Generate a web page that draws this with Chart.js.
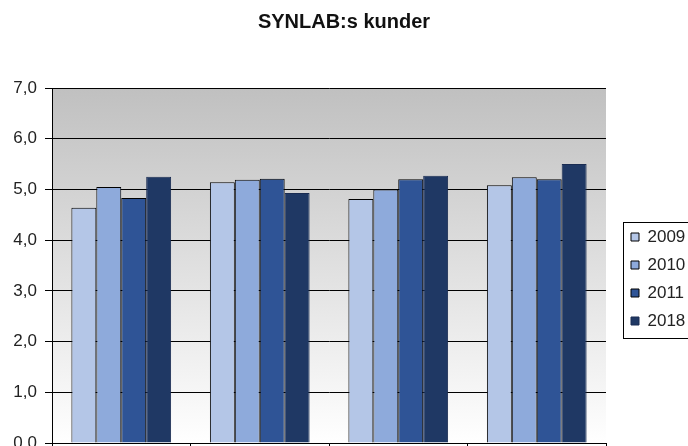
<!DOCTYPE html>
<html lang="sv">
  <head>
    <meta charset="UTF-8" />
    <script src="https://cdn.jsdelivr.net/npm/chart.js@4.4.0/dist/chart.umd.min.js"></script>
    <title>SYNLAB:s kunder</title>
    <style>
      body { margin: 0; background: #fff; }
    </style>
  </head>
  <body>
    <canvas id="chart" width="688" height="446"></canvas>
    <script>
      // categories are cut off at the bottom of the picture
      const categories = ["Fråga 1", "Fråga 2", "Fråga 3", "Fråga 4"];
      const years = ["2009", "2010", "2011", "2018"];
      const values2009 = [4.64, 5.14, 4.81, 5.08];
      const values2010 = [5.05, 5.19, 5.0, 5.24];
      const values2011 = [4.83, 5.21, 5.2, 5.2];
      const values2018 = [5.25, 4.93, 5.27, 5.5];
      const yTicks = [0, 1, 2, 3, 4, 5, 6, 7];

      const fills = ["#b4c6e7", "#8eaadb", "#2f5496", "#1f3864"];
      const borders = ["#000", "#000", "#000", "#1a2c52"];
      const font = "Liberation Sans, Arial, sans-serif";

      const plotBg = {
        id: "plotBg",
        afterInit(chart) {
          // fixed legend column width so the plot ends where the reference does
          const l = chart.legend;
          const fit = l.fit;
          l.fit = function () {
            fit.call(this);
            this.width = 82;
          };
        },
        afterUpdate(chart) {
          // move the legend items down/right to where the reference has them
          const l = chart.legend;
          const hb = l.legendHitBoxes;
          if (!hb.length) return;
          const dy = 237 - (hb[0].top + hb[0].height / 2);
          const dx = 14;
          l.top += dy;
          l.bottom += dy;
          l.left += dx;
          l.right += dx;
          hb.forEach((h) => {
            h.top += dy;
            h.left += dx;
          });
        },
        beforeDraw(chart) {
          const { ctx, chartArea: a } = chart;
          const g = ctx.createLinearGradient(0, a.top, 0, a.bottom);
          g.addColorStop(0, "#c0c0c0");
          g.addColorStop(1, "#ffffff");
          ctx.save();
          ctx.fillStyle = g;
          ctx.fillRect(a.left, a.top, a.right - a.left, a.bottom - a.top);
          ctx.restore();
        },
        afterDraw(chart) {
          const hb = chart.legend.legendHitBoxes;
          if (!hb.length) return;
          const first = hb[0];
          const last = hb[hb.length - 1];
          const top = Math.round(first.top + first.height / 2 - 15) + 0.5;
          const bottom = Math.round(last.top + last.height / 2 + 17) + 0.5;
          const left = Math.round(first.left - 8) + 0.5;
          const ctx = chart.ctx;
          ctx.save();
          ctx.strokeStyle = "#000";
          ctx.lineWidth = 1;
          ctx.strokeRect(left, top, chart.width + 10 - left, bottom - top);
          ctx.restore();
        },
      };

      const ctx = document.getElementById("chart").getContext("2d");
      const chart = new Chart(ctx, {
        type: "bar",
        data: {
          labels: categories,
          datasets: [values2009, values2010, values2011, values2018].map((v, i) => ({
            label: years[i],
            data: v,
            backgroundColor: fills[i],
            borderColor: borders[i],
            borderWidth: 1,
            categoryPercentage: 0.72,
            barPercentage: 1,
          })),
        },
        options: {
          responsive: false,
          animation: false,
          layout: { padding: 0 },
          plugins: {
            title: {
              display: true,
              text: "SYNLAB:s kunder",
              color: "#111",
              font: { family: font, size: 20, weight: "bold" },
              padding: { top: 10, bottom: 54 },
            },
            legend: {
              position: "right",
              labels: {
                boxWidth: 8,
                boxHeight: 8,
                padding: 11,
                color: "#222",
                font: { family: font, size: 17 },
              },
            },
            tooltip: { enabled: false },
          },
          scales: {
            x: {
              ticks: { display: false },
              grid: { drawOnChartArea: false, color: "#000", tickLength: 7, offset: true },
              border: { color: "#000" },
              afterFit(axis) {
                // the picture is cut just below the axis line
                axis.height = 3;
              },
            },
            y: {
              min: 0,
              max: 7,
              afterBuildTicks(axis) {
                axis.ticks = yTicks.map((v) => ({ value: v }));
              },
              afterFit(axis) {
                axis.width = 52;
                axis.paddingBottom = 0;
              },
              ticks: {
                color: "#222",
                padding: 8,
                font: { family: font, size: 17 },
                callback: (v) => v.toFixed(1).replace(".", ","),
              },
              grid: { color: "#000", tickLength: 7 },
              border: { color: "#000" },
            },
          },
        },
        plugins: [plotBg],
      });
    </script>
  </body>
</html>
